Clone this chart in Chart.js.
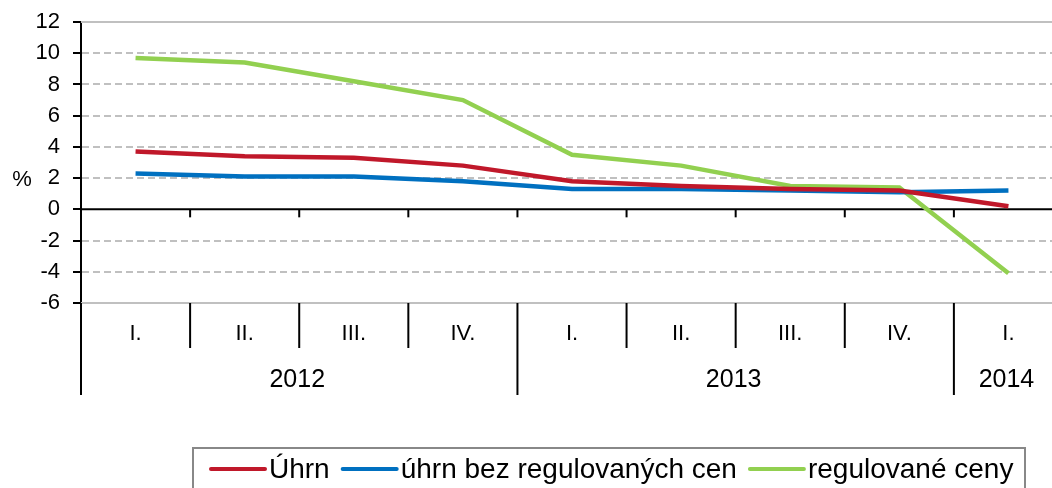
<!DOCTYPE html>
<html>
<head>
<meta charset="utf-8">
<script src="https://cdn.jsdelivr.net/npm/chart.js@4"></script>
<style>
  html, body { margin: 0; padding: 0; background: #fff; overflow: hidden; }
</style>
</head>
<body>
<canvas id="myChart" width="1075" height="488"></canvas>
<script>
// quarters and the year each one belongs to
let quarters = ['I.', 'II.', 'III.', 'IV.', 'I.', 'II.', 'III.', 'IV.', 'I.'];
let years = ['2012', '2012', '2012', '2012', '2013', '2013', '2013', '2013', '2014'];

// meziroční změna v %
let uhrn = [3.7, 3.4, 3.3, 2.8, 1.8, 1.5, 1.3, 1.2, 0.2];
let bezRegulovanych = [2.3, 2.1, 2.1, 1.8, 1.3, 1.3, 1.2, 1.1, 1.2];
let regulovane = [9.7, 9.4, 8.2, 7.0, 3.5, 2.8, 1.5, 1.4, -4.1];

let seriesNames = ['Úhrn', 'úhrn bez regulovaných cen', 'regulované ceny'];
let seriesColors = ['#C0182A', '#0070C0', '#92D050'];

let yMin = -6, yMax = 12, yStep = 2;

let font = '"Liberation Sans", Arial, sans-serif';

function line(ctx, x1, y1, x2, y2) {
    ctx.beginPath();
    ctx.moveTo(x1, y1);
    ctx.lineTo(x2, y2);
    ctx.stroke();
}

let axisPlugin = {
    id: 'axisPlugin',
    beforeDatasetsDraw(chart) {
        let ctx = chart.ctx;
        let a = chart.chartArea;
        let x = chart.scales.x, y = chart.scales.y;
        ctx.save();
        ctx.lineWidth = 2;
        ctx.strokeStyle = '#c0c0c0';
        [yMax, yMin].forEach(v => {
            let py = y.getPixelForValue(v);
            line(ctx, a.left, py, a.right, py);
        });
        let y0 = y.getPixelForValue(0);
        ctx.strokeStyle = '#000';
        line(ctx, a.left, y0, a.right, y0);
        for (let i = 1; i < quarters.length; i++) {
            let bx = (x.getPixelForValue(i - 1) + x.getPixelForValue(i)) / 2;
            line(ctx, bx, y0, bx, y0 + 8);
            let newYear = years[i] !== years[i - 1];
            line(ctx, bx, a.bottom, bx, a.bottom + (newYear ? 92 : 45));
        }
        line(ctx, a.left, a.bottom, a.left, a.bottom + 92);
        ctx.restore();
    },
    afterDraw(chart) {
        let ctx = chart.ctx;
        let a = chart.chartArea;
        let x = chart.scales.x;
        ctx.save();
        ctx.fillStyle = '#000';
        ctx.textBaseline = 'middle';
        ctx.textAlign = 'center';

        // quarter labels
        ctx.font = '22px ' + font;
        quarters.forEach((q, i) => ctx.fillText(q, x.getPixelForValue(i), a.bottom + 31));

        // year labels centred under their quarters
        ctx.font = '25px ' + font;
        let start = 0;
        for (let i = 1; i <= years.length; i++) {
            if (i === years.length || years[i] !== years[start]) {
                let cx = (x.getPixelForValue(start) + x.getPixelForValue(i - 1)) / 2;
                ctx.fillText(years[start], cx - 2, a.bottom + 77);
                start = i;
            }
        }

        // % unit
        ctx.font = '22px ' + font;
        ctx.fillText('%', 22, 180);

        // legend
        ctx.strokeStyle = '#888';
        ctx.lineWidth = 2;
        ctx.strokeRect(193, 448, 832, 60);
        ctx.font = '28px ' + font;
        ctx.textAlign = 'left';
        let lx = 211, ly = 469;
        chart.data.datasets.forEach(ds => {
            ctx.strokeStyle = ds.borderColor;
            ctx.lineWidth = 4;
            ctx.lineCap = 'round';
            line(ctx, lx, ly, lx + 54, ly);
            ctx.fillText(ds.label, lx + 58, ly + 1);
            lx += 58 + ctx.measureText(ds.label).width + 13;
        });
        ctx.restore();
    }
};

let data = [uhrn, bezRegulovanych, regulovane];

let chart1 = new Chart(document.getElementById('myChart').getContext('2d'), {
    type: 'line',
    data: {
        labels: quarters,
        datasets: data.map((d, i) => ({
            label: seriesNames[i],
            data: d,
            borderColor: seriesColors[i],
            borderWidth: 4.5,
            pointRadius: 0,
            tension: 0,
            fill: false
        }))
    },
    options: {
        responsive: false,
        animation: false,
        layout: { padding: { top: 22, right: 12, bottom: 185, left: 0 } },
        plugins: {
            legend: { display: false },
            tooltip: { enabled: false }
        },
        scales: {
            x: {
                type: 'category',
                offset: true,
                display: false
            },
            y: {
                min: yMin,
                max: yMax,
                afterFit(scale) {
                    scale.width = 81;
                    scale.paddingTop = 0;
                    scale.paddingBottom = 0;
                },
                ticks: {
                    stepSize: yStep,
                    color: '#000',
                    padding: 13,
                    font: { family: font, size: 22 }
                },
                grid: {
                    color: ctx => (ctx.tick && (ctx.tick.value === 0 || ctx.tick.value === yMax || ctx.tick.value === yMin)) ? 'rgba(0,0,0,0)' : '#c0c0c0',
                    lineWidth: 2,
                    tickColor: '#000',
                    tickWidth: 2,
                    tickLength: 8
                },
                border: { display: true, color: '#000', width: 2, dash: [7, 4] }
            }
        }
    },
    plugins: [axisPlugin]
});
</script>
</body>
</html>
